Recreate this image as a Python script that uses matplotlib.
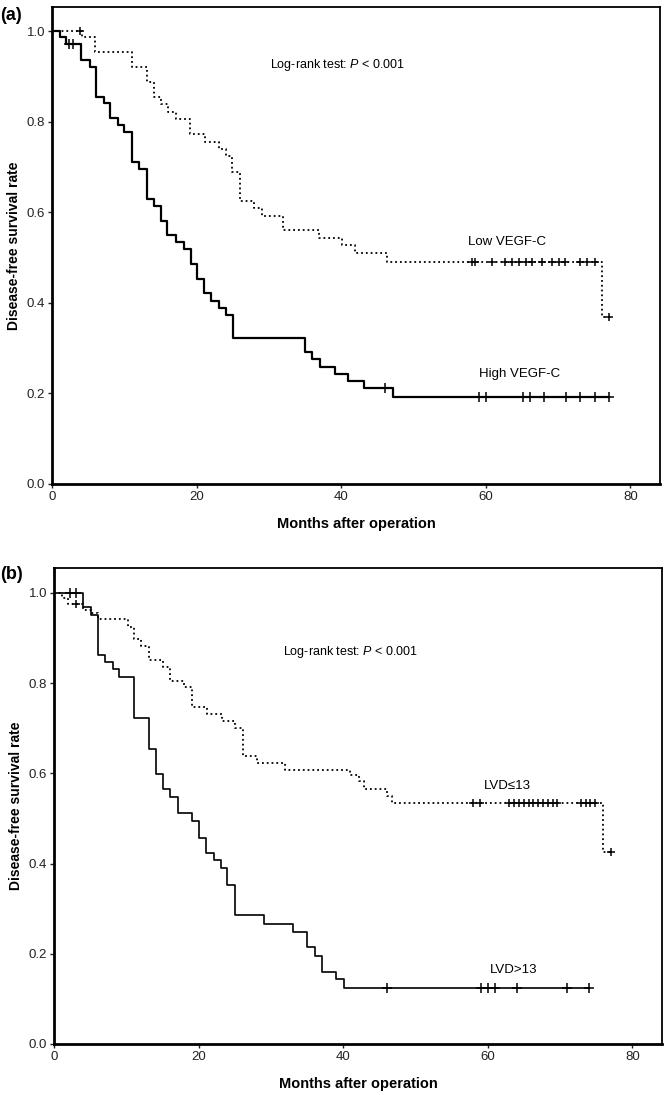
import matplotlib.pyplot as plt
import numpy as np

plt.rcParams['font.family'] = ['Liberation Sans Narrow', 'Liberation Sans', 'DejaVu Sans']
plt.rcParams['mathtext.fontset'] = 'custom'
plt.rcParams['mathtext.it'] = 'Liberation Sans:italic'
plt.rcParams['mathtext.rm'] = 'Liberation Sans'

# panel (a): VEGF-C expression
high_t = [0, 1.1, 1.9, 4.0, 5.2, 6.1, 7.2, 8.0, 9.1, 10.0, 11.1, 12.0, 13.1, 14.1, 15.1, 15.9,
          17.1, 18.2, 19.2, 20.0, 21.0, 22.0, 23.1, 24.1, 25.1, 35.0, 36.0, 37.1, 39.1, 41.0, 43.1, 47.2]
high_s = [1.0, 0.986, 0.971, 0.937, 0.921, 0.855, 0.840, 0.809, 0.792, 0.776, 0.711, 0.695, 0.630, 0.614, 0.581, 0.550,
          0.535, 0.518, 0.485, 0.4525, 0.422, 0.404, 0.388, 0.372, 0.322, 0.292, 0.275, 0.258, 0.243, 0.227, 0.211, 0.193]
high_cens = [2.3, 2.9, 46.1, 59.0, 60.0, 65.1, 66.1, 68.1, 71.1, 73.1, 75.1, 77.0]

low_t = [0, 4.1, 5.9, 11.0, 13.1, 14.1, 15.1, 16.1, 17.1, 19.1, 21.1, 23.1, 24.0, 24.9, 26.0, 28.0,
         29.0, 32.0, 36.9, 40.1, 41.9, 46.3, 76.1]
low_s = [1.0, 0.986, 0.953, 0.920, 0.888, 0.855, 0.838, 0.822, 0.805, 0.772, 0.756, 0.740, 0.723, 0.689, 0.625, 0.609,
         0.592, 0.561, 0.544, 0.528, 0.511, 0.491, 0.369]
low_cens = [3.9, 58.1, 58.5, 60.9, 62.7, 63.6, 64.6, 65.5, 66.4, 67.8, 69.2, 70.1, 71.0, 73.1, 74.0, 75.1, 77.0]

# panel (b): LVD
lvdhi_t = [0, 4.0, 5.1, 6.05, 7.06, 8.1, 9.0, 11.1, 13.1, 14.1, 15.1, 16.1, 17.1, 19.1, 20.1, 21.0,
           22.1, 23.1, 24.0, 25.1, 29.1, 33.1, 35.0, 36.1, 37.1, 39.0, 40.1]
lvdhi_s = [1.0, 0.968, 0.950, 0.862, 0.846, 0.831, 0.813, 0.722, 0.653, 0.598, 0.565, 0.547, 0.513, 0.494, 0.457, 0.423,
           0.408, 0.390, 0.353, 0.285, 0.266, 0.249, 0.214, 0.195, 0.160, 0.144, 0.125]
lvdhi_cens = [2.2, 3.1, 46.0, 59.0, 60.0, 61.0, 64.0, 71.0, 74.0]

lvdlo_t = [0, 1.06, 2.0, 4.06, 5.1, 6.1, 10.2, 11.0, 12.0, 13.1, 15.1, 16.1, 18.05, 19.07, 21.1, 23.2,
           25.1, 26.1, 28.1, 32.0, 41.0, 42.2, 42.9, 46.1, 46.8, 76.0]
lvdlo_s = [1.0, 0.988, 0.975, 0.962, 0.955, 0.942, 0.925, 0.897, 0.881, 0.851, 0.835, 0.805, 0.791, 0.747, 0.731, 0.715,
           0.701, 0.639, 0.622, 0.608, 0.596, 0.582, 0.565, 0.550, 0.534, 0.425]
lvdlo_cens = [3.0, 58.0, 58.9, 62.9, 63.6, 64.3, 65.0, 65.7, 66.3, 66.9, 67.6, 68.3, 69.0, 69.6, 72.9, 73.6, 74.2, 74.9, 77.0]

logrank = r"Log-rank test: $\it{P}$ < 0.001"


def km(ax, t, s, cens, ls, lw, ms):
    # step curve up to the last censored time, plus censor marks
    t_end = max(max(t), max(cens))
    x = list(t) + [t_end]
    y = list(s) + [s[-1]]
    ax.step(x, y, where="post", color="black", linestyle=ls, linewidth=lw)
    idx = np.searchsorted(t, cens, side="right") - 1
    cy = np.array(s)[idx]
    ax.plot(cens, cy, linestyle="none", marker="+", color="black", markersize=ms, markeredgewidth=1.1)


def style(ax, top):
    ax.set_xlim(0, 84.1)
    ax.set_ylim(0, top)
    ax.set_xticks([0, 20, 40, 60, 80])
    ax.set_yticks([0.0, 0.2, 0.4, 0.6, 0.8, 1.0])
    ax.set_yticklabels(["0.0", "0.2", "0.4", "0.6", "0.8", "1.0"])
    ax.tick_params(direction="out", length=3, width=1, labelsize=9.5, pad=2, colors="#222222")
    for side in ["left", "bottom"]:
        ax.spines[side].set_linewidth(2)
    for side in ["top", "right"]:
        ax.spines[side].set_linewidth(1.3)
    ax.set_xlabel("Months after operation", fontsize=10.5, fontweight="bold",
                  family=["Liberation Sans", "DejaVu Sans"], labelpad=10)
    ax.set_ylabel("Disease-free survival rate", fontsize=10, fontweight="bold",
                  family=["Liberation Sans", "DejaVu Sans"], labelpad=4)


fig = plt.figure(figsize=(6.64, 10.95), dpi=100)

ax1 = fig.add_axes([0.0783, 0.558, 0.9157, 0.4356])
km(ax1, high_t, high_s, high_cens, "-", 1.6, 7)
km(ax1, low_t, low_s, low_cens, ":", 1.3, 6)
style(ax1, 1.053)
ax1.text(30.2, 0.925, logrank, fontsize=9, va="center")
ax1.text(57.5, 0.534, "Low VEGF-C", fontsize=9.5, va="center")
ax1.text(59.0, 0.243, "High VEGF-C", fontsize=9.5, va="center")

ax2 = fig.add_axes([0.0813, 0.0466, 0.9157, 0.4347])
km(ax2, lvdhi_t, lvdhi_s, lvdhi_cens, "-", 1.2, 7)
km(ax2, lvdlo_t, lvdlo_s, lvdlo_cens, ":", 1.3, 6)
style(ax2, 1.055)
ax2.text(31.7, 0.869, logrank, fontsize=9, va="center")
ax2.text(60.3, 0.164, "LVD>13", fontsize=9.5, va="center")
ax2.text(59.4, 0.572, "LVD≤13", fontsize=9.5, va="center", family=["Liberation Sans", "DejaVu Sans"])

fig.text(0.0, 0.9855, "(a)", fontsize=13, fontweight="bold", family=["Liberation Sans", "DejaVu Sans"], va="center")
fig.text(0.0, 0.4757, "(b)", fontsize=13, fontweight="bold", family=["Liberation Sans", "DejaVu Sans"], va="center")

fig.savefig("out.png", dpi=100)
